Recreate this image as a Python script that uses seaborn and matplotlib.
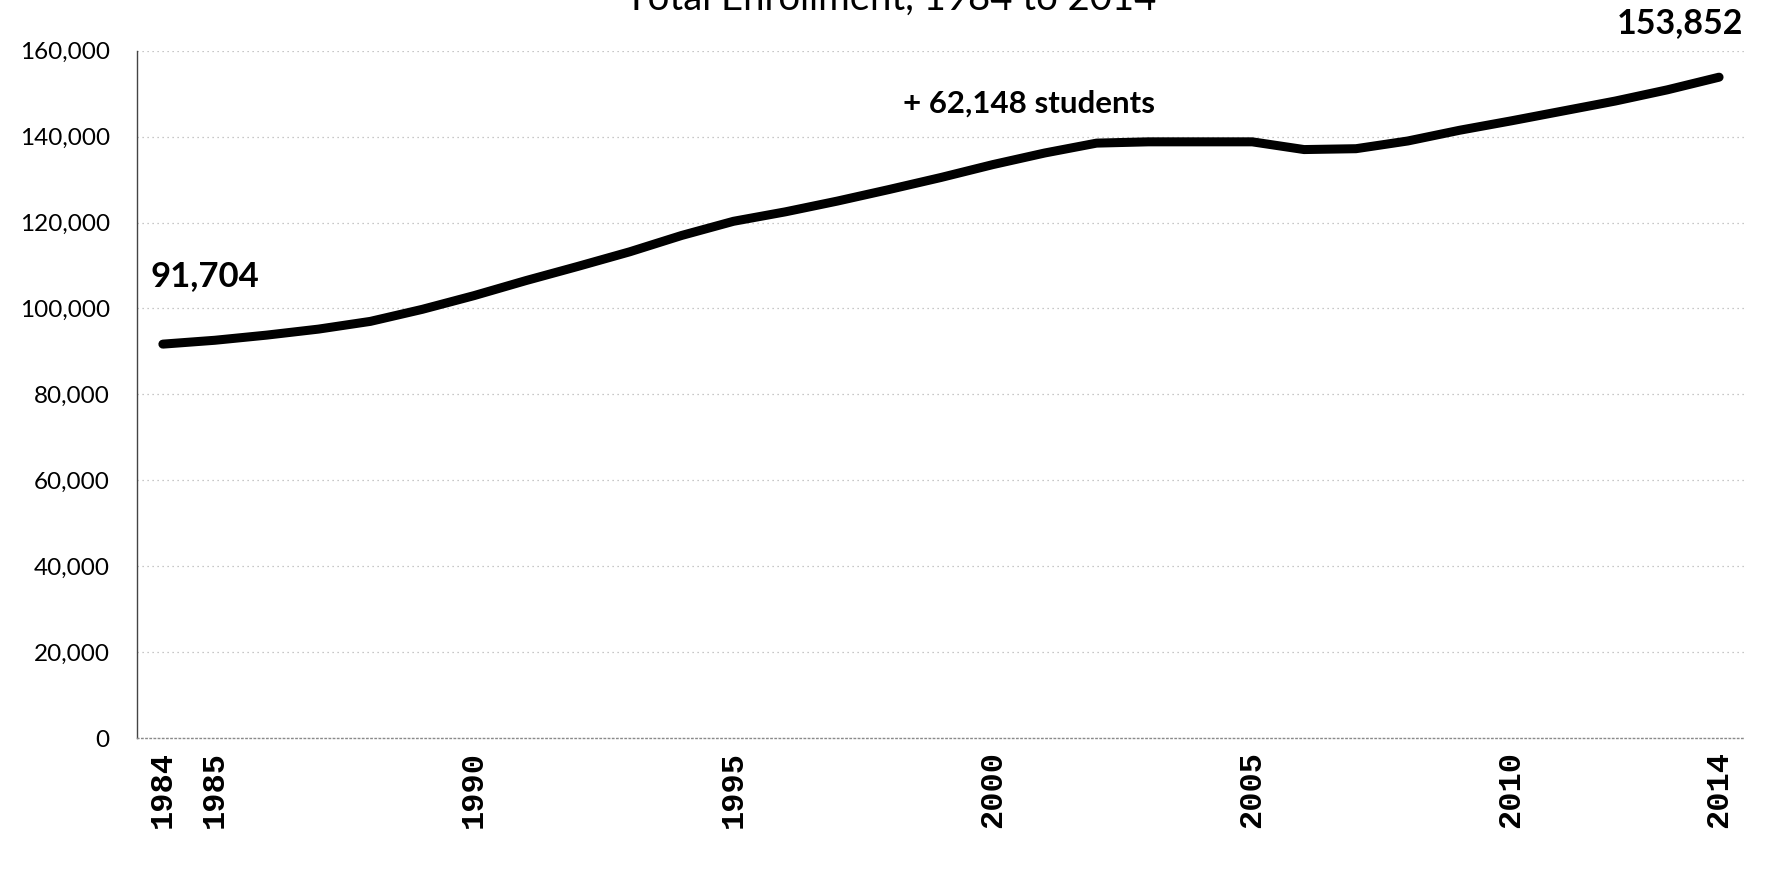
import matplotlib
matplotlib.use("Agg")
import matplotlib.pyplot as plt
import seaborn as sns
import pandas as pd
from matplotlib.ticker import FuncFormatter, FixedLocator

# Total enrollment by year
years = list(range(1984, 2015))
enrollment = [
    91704, 92600, 93800, 95200, 97000, 99800, 103000, 106500, 109800, 113200,
    117000, 120300, 122500, 125000, 127700, 130500, 133500, 136200, 138500, 138800,
    138800, 138800, 137000, 137200, 139000, 141500, 143700, 146000, 148300, 150900,
    153852,
]
tick_years = [1984, 1985, 1990, 1995, 2000, 2005, 2010, 2014]
y_ticks = [0, 20000, 40000, 60000, 80000, 100000, 120000, 140000, 160000]

title_text = "Total Enrollment, 1984 to 2014"
start_label = "91,704"
end_label = "153,852"
change_label = "+ 62,148 students"

df = pd.DataFrame({"year": years, "enrollment": enrollment})

sns.set_theme(style="white")
plt.rcParams["font.family"] = ["Lato", "DejaVu Sans"]

fig = plt.figure(figsize=(17.83, 8.86), dpi=100)
ax = fig.add_axes([0.0768, 0.167, 0.9019, 0.7757])

sns.lineplot(data=df, x="year", y="enrollment", ax=ax, color="black",
             linewidth=6.5, solid_capstyle="round", solid_joinstyle="round")

ax.set_xlim(1983.5, 2014.5)
ax.set_ylim(0, 160000)
ax.yaxis.set_major_locator(FixedLocator(y_ticks))
ax.yaxis.set_major_formatter(FuncFormatter(lambda v, p: f"{int(v):,}"))
ax.xaxis.set_major_locator(FixedLocator(tick_years))
ax.set_xlabel("")
ax.set_ylabel("")

ax.grid(axis="y", color="#b5b5b5", linestyle=(0, (1, 3)), linewidth=0.9)
ax.grid(axis="x", visible=False)

for side in ("top", "right"):
    ax.spines[side].set_visible(False)
ax.spines["left"].set_color("#444444")
ax.spines["left"].set_linewidth(1.0)
ax.spines["left"].set_linestyle((0, (5, 1)))
ax.spines["bottom"].set_color("#8a8a8a")
ax.spines["bottom"].set_linewidth(1.0)
ax.spines["bottom"].set_linestyle((0, (1, 2)))

ax.tick_params(axis="y", length=0, pad=19.5, labelsize=17.5, labelcolor="black")
ax.tick_params(axis="x", length=0, pad=9, labelrotation=90, labelcolor="black")
for lbl in ax.get_xticklabels():
    lbl.set_fontfamily("Liberation Mono")
    lbl.set_fontsize(23)
    lbl.set_fontweight("bold")

ax.text(1983.77, 107600, start_label, ha="left", va="center",
        fontsize=25, fontweight="bold", color="black")
ax.text(2014.46, 166400, end_label, ha="right", va="center",
        fontsize=24.5, fontweight="bold", color="black", clip_on=False)
ax.text(2000.69, 147600, change_label, ha="center", va="center",
        fontsize=22.5, fontweight="bold", color="black")

fig.text(891 / 1783, 1 - 10 / 886, title_text, ha="center", va="baseline",
         fontsize=27.5, color="black")

fig.savefig("out.png", dpi=100, facecolor="white")
